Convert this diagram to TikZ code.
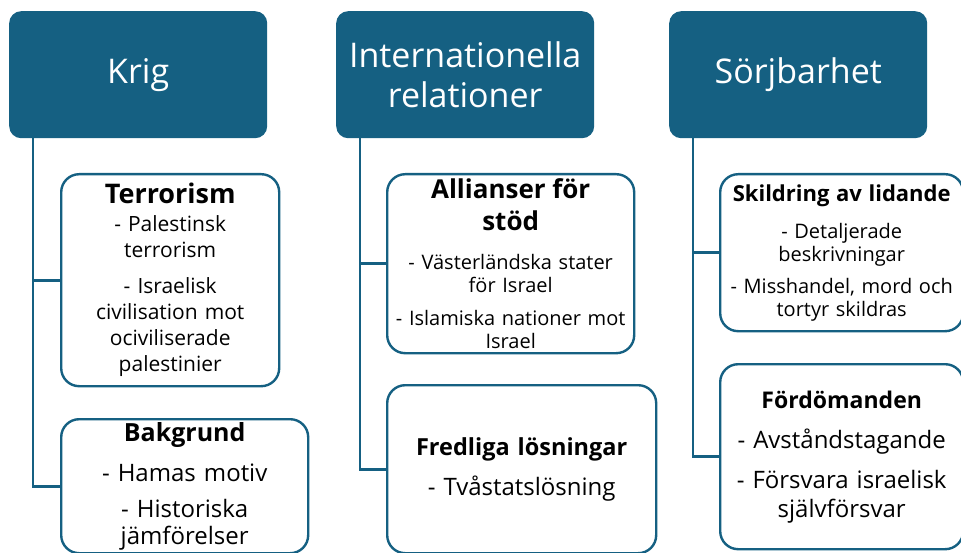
\documentclass[tikz,border=0pt]{standalone}
\usepackage{fontspec}
\setmainfont{Open Sans}
\definecolor{HeadBlue}{RGB}{21,96,130}
\usetikzlibrary{positioning}

\tikzset{
  head/.style={fill=HeadBlue, text=white, rounded corners=12pt, anchor=north west,
    minimum width=258pt, minimum height=127pt, inner sep=0pt, align=center,
    font=\fontsize{34}{40}\selectfont},
  sub/.style={draw=HeadBlue, line width=2.4pt, rounded corners=18pt, fill=white,
    anchor=north west, inner sep=0pt, align=center},
  link/.style={draw=HeadBlue, line width=2.8pt}
}

\begin{document}
\begin{tikzpicture}[x=1pt,y=-1pt]
  \useasboundingbox (0,0) rectangle (961,553);
  % Headers
  \node[head] (krig)   at (9,11)   {Krig};
  \node[head] (intrel) at (336,11) {Internationella\\relationer};
  \node[head] (sorj)   at (669,11) {Sörjbarhet};
  % Krig
  \node[sub, minimum width=218pt, minimum height=212pt, text width=212pt,
        font=\fontsize{21}{26}\selectfont] (terror) at (60,173)
       {{\bfseries\fontsize{27}{30}\selectfont Terrorism\par}\vspace{2pt}
        - Palestinsk\\terrorism\par\vspace{10pt}
        - Israelisk\\civilisation mot\\ociviliserade\\palestinier};
  \node[sub, minimum width=247pt, minimum height=134pt, text width=240pt,
        font=\fontsize{24}{27}\selectfont] (bakgr) at (60,418)
       {{\bfseries\fontsize{25}{28}\selectfont Bakgrund\par}\vspace{13pt}
        - Hamas motiv\par\vspace{9pt}
        - Historiska\\jämförelser};
  % Internationella relationer
  \node[sub, minimum width=247pt, minimum height=179pt, text width=240pt,
        font=\fontsize{20}{23}\selectfont] (allians) at (386,173)
       {{\bfseries\fontsize{26}{32}\selectfont Allianser för\\stöd\par}\vspace{16pt}
        - Västerländska stater\\för Israel\par\vspace{10pt}
        - Islamiska nationer mot\\Israel};
  \node[sub, minimum width=269pt, minimum height=168pt, text width=262pt,
        font=\fontsize{24}{28}\selectfont] (fredl) at (386,384)
       {{\bfseries\fontsize{23.5}{28}\selectfont Fredliga lösningar\par}\vspace{12pt}
        - Tvåstatslösning};
  % Sörjbarhet
  \node[sub, minimum width=243pt, minimum height=157pt, text width=236pt,
        font=\fontsize{20}{23}\selectfont] (skild) at (719,173)
       {{\bfseries\fontsize{22}{26}\selectfont Skildring av lidande\par}\vspace{14pt}
        - Detaljerade\\beskrivningar\par\vspace{9pt}
        - Misshandel, mord och\\tortyr skildras};
  \node[sub, minimum width=243pt, minimum height=185pt, text width=236pt,
        font=\fontsize{24}{29}\selectfont] (fordom) at (719,363)
       {{\bfseries\fontsize{23}{28}\selectfont Fördömanden\par}\vspace{11pt}
        - Avståndstagande\par\vspace{11pt}
        - Försvara israelisk\\självförsvar};
  % Connectors
  \draw[link] ([xshift=24pt]krig.south west)   |- (terror.west);
  \draw[link] ([xshift=24pt]krig.south west)   |- (bakgr.west);
  \draw[link] ([xshift=24pt]intrel.south west) |- (allians.west);
  \draw[link] ([xshift=24pt]intrel.south west) |- (fredl.west);
  \draw[link] ([xshift=24pt]sorj.south west)   |- (skild.west);
  \draw[link] ([xshift=24pt]sorj.south west)   |- (fordom.west);
\end{tikzpicture}
\end{document}
